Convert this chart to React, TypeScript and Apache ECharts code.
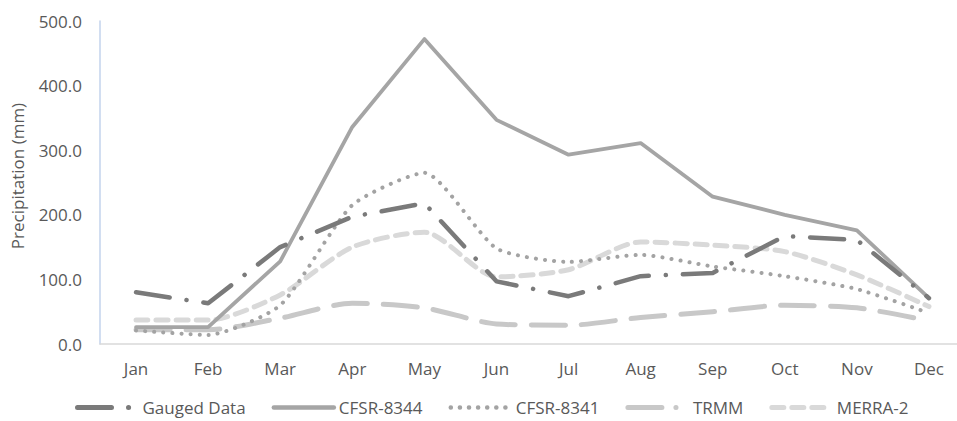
import React, { useEffect, useRef } from "react";
import * as echarts from "echarts";

const months = ["Jan", "Feb", "Mar", "Apr", "May", "Jun", "Jul", "Aug", "Sep", "Oct", "Nov", "Dec"];
const gauged = [80, 63, 150, 197, 218, 97, 74, 105, 110, 167, 161, 71];
const cfsr8344 = [26, 26, 128, 336, 472, 347, 293, 311, 228, 200, 176, 71];
const cfsr8341 = [21, 14, 60, 215, 265, 148, 127, 138, 120, 105, 85, 48];
const trmm = [22, 22, 40, 63, 56, 31, 29, 41, 50, 60, 56, 36];
const merra2 = [37, 37, 76, 150, 173, 104, 115, 158, 153, 143, 107, 58];
const yTicks = [0, 100, 200, 300, 400, 500];

const FONT = "'Open Sans', sans-serif";

export default function App() {
  const ref = useRef<HTMLDivElement>(null);
  useEffect(() => {
    document.body.style.margin = "0";
    const chart = echarts.init(ref.current!, null, { renderer: "svg" });
    const mk = (name: string, data: number[], color: string, width: number, type: any, smooth: any) => ({
      name,
      type: "line",
      data,
      showSymbol: false,
      symbol: "none",
      smooth,
      lineStyle: { color, width, type, cap: "round", join: "round" },
      itemStyle: { color },
      emphasis: { disabled: true },
    });
    chart.setOption({
      animation: false,
      textStyle: { fontFamily: FONT },
      grid: { left: 100, top: 21, bottom: 77, width: 865, containLabel: false, outerBoundsMode: "none" },
      xAxis: {
        type: "category",
        data: months,
        boundaryGap: true,
        axisLine: { lineStyle: { color: "#d9d9d9", width: 1.5 } },
        axisTick: { show: false },
        axisLabel: { color: "#595959", fontSize: 17, margin: 16, fontFamily: FONT },
        splitLine: { show: false },
      },
      yAxis: {
        type: "value",
        min: yTicks[0],
        max: yTicks[yTicks.length - 1],
        interval: 100,
        name: "Precipitation (mm)",
        nameLocation: "middle",
        nameGap: 74,
        nameTextStyle: { color: "#595959", fontSize: 17, fontFamily: FONT, padding: [0, 0, 0, 13] },
        axisLine: { show: true, lineStyle: { color: "#c3d3ec", width: 1.5 } },
        axisTick: { show: false },
        splitLine: { show: false },
        axisLabel: {
          color: "#595959",
          fontSize: 17,
          margin: 18,
          fontFamily: FONT,
          formatter: (v: number) => v.toFixed(1),
        },
      },
      legend: {
        bottom: 0,
        left: 70,
        itemWidth: 60,
        itemHeight: 12,
        itemGap: 26,
        itemStyle: { opacity: 0 },
        textStyle: { color: "#595959", fontSize: 17, fontFamily: FONT },
        data: [
          { name: "Gauged Data", lineStyle: { width: 5, cap: "round" } },
          { name: "CFSR-8344", lineStyle: { width: 4.5 } },
          { name: "CFSR-8341", lineStyle: { width: 4.5, cap: "round" } },
          { name: "TRMM", lineStyle: { width: 5, cap: "round", type: [34, 14, 0.1, 14] } },
          { name: "MERRA-2", lineStyle: { width: 5 } },
        ],
      },
      series: [
        mk("MERRA-2", merra2, "#d9d9d9", 5, [12, 8], 0.25),
        mk("TRMM", trmm, "#c8c8c8", 5, [34, 16], 0.25),
        mk("CFSR-8341", cfsr8341, "#a3a3a3", 4, [0.1, 9], 0.2),
        mk("CFSR-8344", cfsr8344, "#a5a5a5", 3.8, "solid", false),
        mk("Gauged Data", gauged, "#7a7a7a", 4.5, [34, 17, 0.1, 17], false),
      ],
    });
    return () => chart.dispose();
  }, []);
  return <div ref={ref} style={{ width: 957, height: 421 }} />;
}
